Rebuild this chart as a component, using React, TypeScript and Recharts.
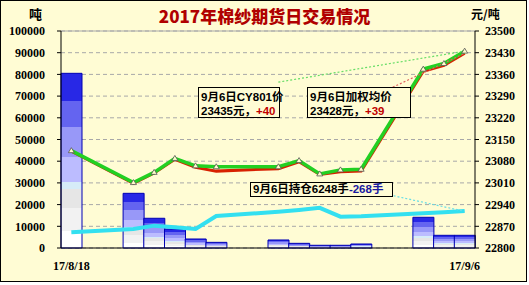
import { ComposedChart, Bar, Line, XAxis, YAxis, CartesianGrid, ReferenceLine } from 'recharts';

const dates = [
  '17/8/18', '17/8/19', '17/8/20', '17/8/21', '17/8/22', '17/8/23', '17/8/24', '17/8/25', '17/8/26', '17/8/27',
  '17/8/28', '17/8/29', '17/8/30', '17/8/31', '17/9/1', '17/9/2', '17/9/3', '17/9/4', '17/9/5', '17/9/6',
];
// 成交量 (吨)
const volume = [80500, null, null, 25200, 13700, 8750, 4150, 2600, null, null, 3700, 2150, 1250, 1250, 1850, null, null, 14150, 5850, 5850];
// 持仓
const openInterest = [7250, null, null, 8750, 10300, 9550, 8750, 14750, null, null, 16700, 17500, 18500, 14450, 14600, null, null, 16000, 16450, 17050];
// CY801 价格 (元/吨)
const cyPrice = [23114, null, null, 23011, 23044, 23089, 23065, 23062, null, null, 23062, 23082, 23039, 23052, 23054, null, null, 23377, 23395, 23435];
// 加权均价
const avgPrice = [23112, null, null, 23009, 23042, 23086, 23060, 23048, null, null, 23056, 23078, 23037, 23046, 23048, null, null, 23370, 23389, 23428];

const leftTicks = [0, 10000, 20000, 30000, 40000, 50000, 60000, 70000, 80000, 90000, 100000];
const rightTicks = [22800, 22870, 22940, 23010, 23080, 23150, 23220, 23290, 23360, 23430, 23500];
const xTicks = ['17/8/18', '17/9/6'];

const data = dates.map((d, i) => ({
  date: d,
  volume: volume[i],
  oi: openInterest[i],
  cy: cyPrice[i],
  avg: avgPrice[i],
}));

const bg = '#fffcd4';
const tickStyle = { fontFamily: '"Liberation Serif", serif', fontWeight: 700, fontSize: 12, fill: '#000' };
const boxText = { fontFamily: '"Liberation Sans", "Noto Sans CJK SC", sans-serif', fontWeight: 700, fontSize: 11.5, color: '#000' };

const TriDot = (props: any) => {
  const { cx, cy, index } = props;
  if (cx == null || cy == null) return <g key={index} />;
  return (
    <path
      key={index}
      d={`M${cx},${cy - 3} L${cx + 3},${cy + 2} L${cx - 3},${cy + 2} Z`}
      fill="#ffffcc"
      stroke="#555"
      strokeWidth={0.8}
    />
  );
};

export default function App() {
  return (
    <div style={{ position: 'absolute', left: 0, top: 0, width: 529, height: 285, background: '#fff' }}>
      <div style={{ position: 'absolute', left: 0, top: 0, width: 527, height: 282, background: bg, border: '1px solid #000', boxSizing: 'border-box' }} />
      <div style={{ position: 'absolute', left: 0, top: 0 }}>
        <ComposedChart width={529} height={285} data={data} margin={{ top: 31, right: 0, bottom: 18, left: 0 }} barCategoryGap={0}>
          <defs>
            <linearGradient id="barGrad" x1="0" y1="0" x2="0" y2="1">
              <stop offset="0" stopColor="#2828e6" />
              <stop offset="0.16" stopColor="#2828e6" />
              <stop offset="0.16" stopColor="#6464f0" />
              <stop offset="0.31" stopColor="#6464f0" />
              <stop offset="0.31" stopColor="#9898f8" />
              <stop offset="0.48" stopColor="#9898f8" />
              <stop offset="0.48" stopColor="#bcbcff" />
              <stop offset="0.62" stopColor="#bcbcff" />
              <stop offset="0.62" stopColor="#d6ecf8" />
              <stop offset="0.66" stopColor="#d6ecf8" />
              <stop offset="0.66" stopColor="#e6e6e6" />
              <stop offset="0.77" stopColor="#e6e6e6" />
              <stop offset="0.77" stopColor="#f2f2f2" />
              <stop offset="0.9" stopColor="#f2f2f2" />
              <stop offset="0.9" stopColor="#ffffff" />
              <stop offset="1" stopColor="#ffffff" />
            </linearGradient>
          </defs>
          <CartesianGrid vertical={false} stroke="#a8a8a8" strokeDasharray="4 3" yAxisId="left" />
          <XAxis
            dataKey="date"
            ticks={xTicks}
            interval={0}
            tickLine={false}
            tickSize={0}
            tickMargin={13}
            axisLine={{ stroke: '#000' }}
            tick={tickStyle}
            height={19}
          />
          <YAxis
            yAxisId="left"
            domain={[0, 100000]}
            ticks={leftTicks}
            interval={0}
            width={61}
            tickSize={4}
            tickMargin={12}
            axisLine={{ stroke: '#000' }}
            tickLine={{ stroke: '#000' }}
            tick={tickStyle}
          />
          <YAxis
            yAxisId="right"
            orientation="right"
            domain={[22800, 23500]}
            ticks={rightTicks}
            interval={0}
            width={54}
            tickSize={4}
            tickMargin={6}
            axisLine={{ stroke: '#000' }}
            tickLine={{ stroke: '#000' }}
            tick={tickStyle}
          />
          <ReferenceLine yAxisId="left" y={100000} stroke="#a8a8a8" ifOverflow="extendDomain" />
          <Bar yAxisId="left" dataKey="volume" fill="url(#barGrad)" stroke="#0000b4" strokeWidth={1} isAnimationActive={false} />
          <Line yAxisId="left" dataKey="oi" stroke="#33e0f0" strokeWidth={4} dot={false} connectNulls isAnimationActive={false} />
          <Line yAxisId="right" dataKey="avg" stroke="#d82000" strokeWidth={3} dot={false} connectNulls isAnimationActive={false} />
          <Line yAxisId="right" dataKey="cy" stroke="#22d022" strokeWidth={3.5} dot={TriDot} connectNulls isAnimationActive={false} />
          <ReferenceLine
            yAxisId="right"
            segment={[{ x: '17/8/28', y: 23335 }, { x: '17/9/6', y: 23435 }]}
            stroke="#66dd66"
            strokeWidth={1.2}
            strokeDasharray="2 2"
          />
          <ReferenceLine
            yAxisId="right"
            segment={[{ x: '17/9/2', y: 23302 }, { x: '17/9/6', y: 23428 }]}
            stroke="#e06060"
            strokeWidth={1.2}
            strokeDasharray="2 2"
          />
          <ReferenceLine
            yAxisId="left"
            segment={[{ x: '17/9/2', y: 25250 }, { x: '17/9/6', y: 16900 }]}
            stroke="#66dde6"
            strokeWidth={1.2}
            strokeDasharray="2 2"
          />
        </ComposedChart>
      </div>
      <div style={{ position: 'absolute', left: 0, top: 6, width: 529, textAlign: 'center', fontFamily: '"Noto Sans CJK SC", serif', fontWeight: 900, fontSize: 17, color: '#b00000', lineHeight: '20px' }}>
        2017年棉纱期货日交易情况
      </div>
      <div style={{ position: 'absolute', left: 29, top: 6, fontFamily: '"Noto Sans CJK SC", serif', fontWeight: 700, fontSize: 13, lineHeight: '16px' }}>吨</div>
      <div style={{ position: 'absolute', left: 471, top: 6, fontFamily: '"Noto Sans CJK SC", serif', fontWeight: 700, fontSize: 12, lineHeight: '16px' }}>元/吨</div>
      <div style={{ position: 'absolute', left: 198, top: 87, width: 82, height: 31, border: '1px solid #000', boxSizing: 'border-box', background: bg, padding: '2px 0 0 2px', ...boxText, lineHeight: '14px', whiteSpace: 'nowrap' }}>
        <div>9月6日CY801价</div>
        <div>23435元，<span style={{ color: '#c00000' }}>+40</span></div>
      </div>
      <div style={{ position: 'absolute', left: 307, top: 87, width: 104, height: 31, border: '1px solid #000', boxSizing: 'border-box', background: bg, padding: '2px 0 0 2px', ...boxText, lineHeight: '14px', whiteSpace: 'nowrap' }}>
        <div>9月6日加权均价</div>
        <div>23428元，<span style={{ color: '#c00000' }}>+39</span></div>
      </div>
      <div style={{ position: 'absolute', left: 250, top: 182, width: 143, height: 15, border: '1px solid #000', boxSizing: 'border-box', background: bg, padding: '0 0 0 2px', ...boxText, lineHeight: '13px', whiteSpace: 'nowrap' }}>
        9月6日持仓6248手<span style={{ color: '#1a1aa0' }}>-268手</span>
      </div>
    </div>
  );
}
